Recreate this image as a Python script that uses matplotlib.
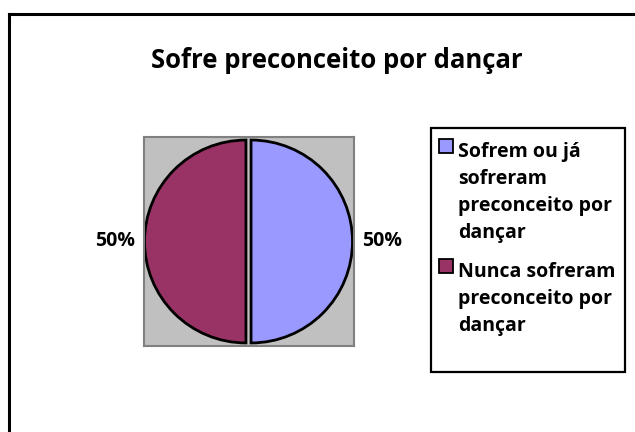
import matplotlib.pyplot as plt
from matplotlib.lines import Line2D
from matplotlib.patches import Rectangle

titulo = 'Sofre preconceito por dançar'
categorias = [['Sofrem ou já', 'sofreram', 'preconceito por', 'dançar'],
              ['Nunca sofreram', 'preconceito por', 'dançar']]
valores = [50, 50]
cores = ['#9999FF', '#993366']

plt.rcParams['font.family'] = ['Open Sans', 'DejaVu Sans']
plt.rcParams['font.weight'] = 'bold'

W, H = 635, 432
fig = plt.figure(figsize=(W / 100, H / 100), dpi=100)

# moldura externa (o gráfico original está cortado à direita e embaixo)
fig.add_artist(Line2D([8.5 / W, 8.5 / W], [0, 1 - 14 / H], color='black', lw=2.2))
fig.add_artist(Line2D([8.5 / W, 1], [1 - 14 / H, 1 - 14 / H], color='black', lw=2.2))

fig.text(337 / W, 1 - 68 / H, titulo, ha='center', va='baseline',
         fontsize=18.5, fontweight='bold')

# área do gráfico
ax = fig.add_axes([143.5 / W, 1 - 346 / H, 210 / W, 209 / H])
wedges, textos, pcts = ax.pie(valores, colors=cores, startangle=90, counterclock=False,
                              explode=[0.025, 0.025], autopct='%1.0f%%', pctdistance=1.29,
                              wedgeprops=dict(edgecolor='black', linewidth=2),
                              textprops=dict(fontsize=14, fontweight='bold'), frame=True)
for t in pcts:
    t.set_clip_on(False)
ax.set_facecolor('#C0C0C0')
for s in ax.spines.values():
    s.set_color('#808080')
    s.set_linewidth(1.5)
ax.set_xticks([])
ax.set_yticks([])
ax.set_xlim(-1.035, 1.035)
ax.set_ylim(-1.03, 1.03)
ax.set_aspect('equal')

# legenda
fig.add_artist(Rectangle((430.5 / W, 1 - 372 / H), 194 / W, 244 / H,
                         transform=fig.transFigure, facecolor='white',
                         edgecolor='black', lw=1.6))
y_inicio = [157, 277]
for linhas, cor, y0 in zip(categorias, cores, y_inicio):
    fig.add_artist(Rectangle((438.5 / W, 1 - (y0 - 4) / H), 14 / W, 14 / H,
                             transform=fig.transFigure, facecolor=cor,
                             edgecolor='black', lw=1.3))
    for i, linha in enumerate(linhas):
        fig.text(458 / W, 1 - (y0 + 27 * i) / H, linha, ha='left', va='baseline',
                 fontsize=14, fontweight='bold')

fig.savefig('out.png', dpi=100)
